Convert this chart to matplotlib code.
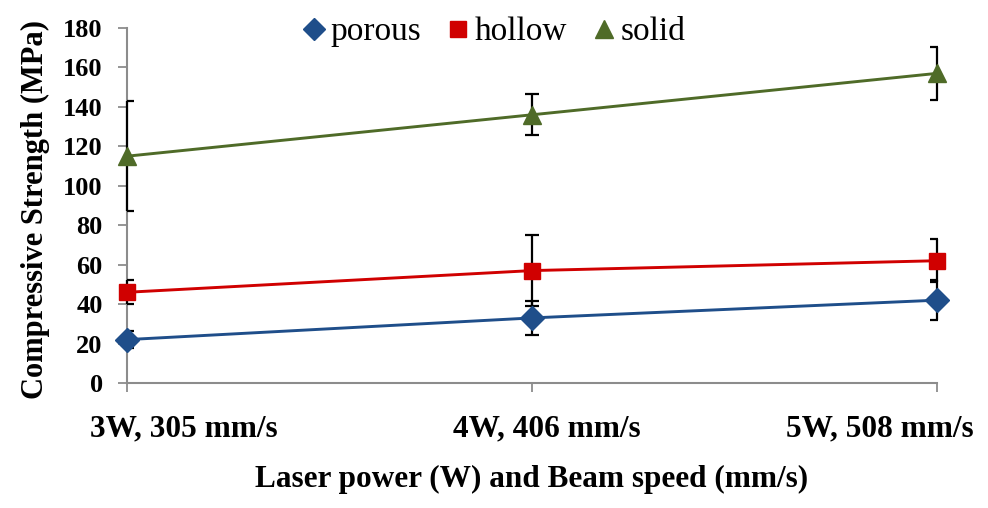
import matplotlib
matplotlib.use("Agg")
import matplotlib.pyplot as plt
from matplotlib.lines import Line2D
import matplotlib.transforms as mtransforms

# ---- data ----
categories = ["3W, 305 mm/s", "4W, 406 mm/s", "5W, 508 mm/s"]
series_names = ["porous", "hollow", "solid"]
porous = [22, 33, 42]
porous_err = [4.5, 8.5, 10]
hollow = [46, 57, 62]
hollow_err = [6, 18, 11]
solid = [115, 136, 157]
solid_err = [28, 10.5, 13.5]
y_ticks = [0, 20, 40, 60, 80, 100, 120, 140, 160, 180]

# ---- style ----
plt.rcParams['font.family'] = ['Liberation Serif', 'DejaVu Serif']
colors = ['#1F4E8A', '#D00000', '#4F6B28']
markers = ['D', 's', '^']
msizes = [12, 11.5, 13]

fig = plt.figure(figsize=(9.88, 5.08), dpi=100)
W, H = 988, 508
ax = fig.add_axes([127 / W, 1 - 383 / H, (937 - 127) / W, (383 - 28) / H])

x = list(range(len(categories)))
data = [(porous, porous_err), (hollow, hollow_err), (solid, solid_err)]
for (vals, errs), c, m, ms in zip(data, colors, markers, msizes):
    eb = ax.errorbar(x, vals, yerr=errs, fmt='none', ecolor='black',
                     elinewidth=1.6, capsize=5, capthick=1.6, zorder=4)
    for coll in eb[2]:
        coll.set_clip_on(False)
    ax.plot(x, vals, color=c, lw=2.1, marker=m, ms=ms, mfc=c, mec=c,
            clip_on=False, zorder=5)

ax.set_xlim(0, len(categories) - 1)
ax.set_ylim(0, 180)
ax.set_yticks(y_ticks)
ax.set_xticks(x)
ax.set_xticklabels(categories, fontsize=22.5, fontweight='bold')
for lbl in ax.get_yticklabels():
    lbl.set_fontweight('bold')
    lbl.set_fontsize(19)

for s in ['top', 'right']:
    ax.spines[s].set_visible(False)
for s in ['left', 'bottom']:
    ax.spines[s].set_color('#8C8C8C')
    ax.spines[s].set_linewidth(1.5)

ax.tick_params(axis='y', direction='out', length=6.5, width=1.3,
               color='#8C8C8C', pad=11)
ax.tick_params(axis='x', direction='out', length=6.5, width=1.3,
               color='#8C8C8C', pad=16)

# shift x tick labels to match reference placement
shifts = [57, 15, -57]
for lbl, dx in zip(ax.get_xticklabels(), shifts):
    off = mtransforms.ScaledTranslation(dx / 100, 0, fig.dpi_scale_trans)
    lbl.set_transform(lbl.get_transform() + off)

ax.set_xlabel("Laser power (W) and Beam speed (mm/s)", fontsize=22.5,
              fontweight='bold')
ax.xaxis.label.set_va('baseline')
ax.xaxis.set_label_coords(0.5, (383 - 487) / 355)

ax.set_ylabel("Compressive Strength (MPa)", fontsize=22, fontweight='bold')
ax.yaxis.label.set_va('center')
ax.yaxis.set_label_coords((35 - 127) / 810, 0.49)

handles = [Line2D([], [], linestyle='none', marker=m, color=c, ms=ms * 0.95)
           for c, m, ms in zip(colors, markers, msizes)]
fig.legend(handles, series_names, loc='center', bbox_to_anchor=(0.497, 0.937),
           ncol=3, frameon=False, fontsize=24, handletextpad=0.0,
           columnspacing=0.6, handlelength=1.0, borderaxespad=0)

fig.savefig("out.png", dpi=100, facecolor='white')
